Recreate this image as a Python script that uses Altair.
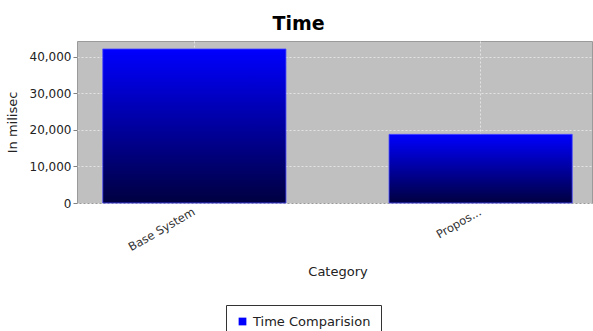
import altair as alt
import pandas as pd

# Time measurements for the two systems (milliseconds)
categories = ["Base System", "Proposed System"]
tick_labels = ["Base System", "Propos..."]
times_ms = [42100, 18770]
series = ["Time Comparision", "Time Comparision"]

df = pd.DataFrame({"category": categories, "time": times_ms, "series": series})

# shortened axis labels for long category names
label_expr = "'" + tick_labels[-1] + "'"
for cat, lab in reversed(list(zip(categories[:-1], tick_labels[:-1]))):
    label_expr = f"datum.value == '{cat}' ? '{lab}' : " + label_expr

FONT = "DejaVu Sans"

x_enc = alt.X(
    "category:N",
    sort=categories,
    title="Category",
    scale=alt.Scale(paddingInner=0.36, paddingOuter=0.09, range=[0, 521]),
    axis=alt.Axis(
        labelExpr=label_expr,
        labelAngle=-30,
        labelAlign="right",
        labelBaseline="middle",
        labelPadding=8,
        labelFontSize=11.5,
        labelColor="#333333",
        titleFontSize=13,
        titleFontWeight="normal",
        titleColor="#222222",
        titlePadding=12,
        ticks=False,
        domain=False,
        grid=True,
        gridColor="#e4e4e4",
        gridDash=[2, 2],
        bandPosition=0.5,
    ),
)
y_enc = alt.Y(
    "time:Q",
    title="In milisec",
    scale=alt.Scale(domain=[0, 44280], nice=False),
    axis=alt.Axis(
        values=[0, 10000, 20000, 30000, 40000],
        format=",d",
        labelFontSize=12,
        labelColor="#222222",
        titleFontSize=13,
        titleFontWeight="normal",
        titleColor="#222222",
        titlePadding=10,
        tickSize=4,
        tickColor="#808080",
        domain=False,
        grid=True,
        gridColor="#e4e4e4",
        gridDash=[2, 2],
    ),
)

gradient = alt.LinearGradient(
    gradient="linear",
    x1=0, y1=0, x2=0, y2=1,
    stops=[
        alt.GradientStop(offset=0, color="#0000ff"),
        alt.GradientStop(offset=1, color="#000040"),
    ],
)

bars = alt.Chart(df).mark_bar(
    color=gradient, stroke="#4a4aff", strokeWidth=0.8
).encode(x=x_enc, y=y_enc)

# invisible marks that carry the series legend
legend_marks = alt.Chart(df).mark_square(size=0).encode(
    x=alt.X("category:N", sort=categories),
    y=alt.Y("time:Q"),
    color=alt.Color(
        "series:N",
        scale=alt.Scale(range=["#0000ff"]),
        legend=alt.Legend(
            title=None,
            orient="none",
            legendX=149,
            legendY=264,
            symbolType="square",
            symbolSize=60,
            symbolOpacity=1,
            symbolStrokeWidth=0,
            labelFontSize=13,
            labelColor="#222222",
            labelFont=FONT,
            strokeColor="#333333",
            fillColor="#ffffff",
            padding=10,
        ),
    ),
)

chart = (
    alt.layer(bars, legend_marks)
    .properties(
        width=515,
        height=162,
        title=alt.TitleParams(
            "Time",
            fontSize=19,
            fontWeight="bold",
            font=FONT,
            color="#000000",
            anchor="middle",
            frame="group",
            dx=-36,
            offset=7,
        ),
        autosize=alt.AutoSizeParams(type="none"),
        padding={"left": 77, "top": 41, "right": 1, "bottom": 128},
    )
    .configure(font=FONT, background="#ffffff")
    .configure_view(fill="#c0c0c0", stroke="#9a9a9a", strokeWidth=1)
    .configure_axis(labelFont=FONT, titleFont=FONT)
)

chart.save("out.html", embed_options={"renderer": "svg", "actions": False})
